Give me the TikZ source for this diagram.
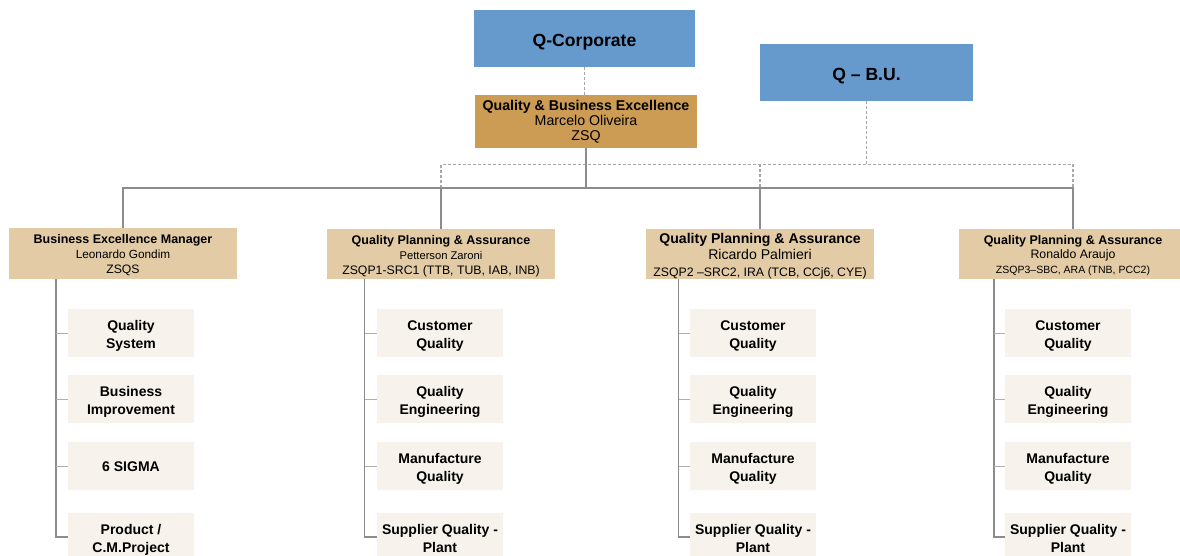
\documentclass[tikz,border=0pt]{standalone}
\usepackage{fontspec}
\setmainfont{Liberation Sans}
\definecolor{qblue}{HTML}{6699CC}
\definecolor{qgold}{HTML}{CC9C54}
\definecolor{qtan}{HTML}{E3CCA5}
\definecolor{qcream}{HTML}{F7F3EC}
\definecolor{qline}{HTML}{8C8C8C}
\definecolor{qdash}{HTML}{A8A8A8}
\newcommand{\fs}[2]{\fontsize{#1}{#2}\selectfont}
\newcommand{\sz}[1]{\fontsize{#1}{\baselineskip}\selectfont}
\begin{document}
\begin{tikzpicture}[x=1pt,y=-1pt,
  bluebox/.style={fill=qblue, inner sep=0pt, minimum height=57pt, font=\fs{17.6}{20}\bfseries, text height=16.4pt, text depth=0pt},
  goldbox/.style={fill=qgold, inner sep=0pt, minimum width=222pt, minimum height=53pt, align=center, font=\fs{14.2}{15}, text height=39pt, text depth=0pt},
  tanbox/.style={fill=qtan, inner sep=0pt, minimum width=228pt, minimum height=51pt, align=center, font=\fs{12.5}{15}, text height=40pt, text depth=0pt},
  creambox/.style={fill=qcream, inner sep=0pt, minimum width=126pt, minimum height=48pt, align=center, font=\fs{14}{17.5}\bfseries, text height=30pt, text depth=0pt},
  conn/.style={draw=qline, line width=1.1pt},
  tick/.style={draw=qline!70, line width=1pt},
  dconn/.style={draw=qdash, line width=1.1pt, dash pattern=on 3pt off 2pt}]
\useasboundingbox (0,0) rectangle (1180,556);

% top level
\node[bluebox, minimum width=221pt] (qcorp) at (584.5,38.5) {Q-Corporate};
\node[bluebox, minimum width=213pt] (qbu) at (866.5,72.5) {Q – B.U.};
\node[goldbox] (gold) at (586,121.5) {\bfseries Quality \& Business Excellence\\Marcelo Oliveira\\ZSQ};

% second level
\node[tanbox] (b1) at (123,253.5) {\bfseries Business Excellence Manager\\\sz{11.8}Leonardo Gondim\\\sz{12.2}ZSQS};
\node[tanbox, minimum height=50pt, text height=41pt] (b2) at (441,254) {\bfseries Quality Planning \& Assurance\\\sz{11.2}Petterson Zaroni\\\sz{12.3}ZSQP1-SRC1 (TTB, TUB, IAB, INB)};
\node[tanbox, minimum height=50pt, font=\fs{14.1}{16.5}, text height=44.8pt] (b3) at (760,254) {\bfseries Quality Planning \& Assurance\\Ricardo Palmieri\\\sz{12.3}ZSQP2 –SRC2, IRA (TCB, CCj6, CYE)};
\node[tanbox, minimum height=50pt, font=\fs{12.5}{14.3}, text height=38.2pt] (b4) at (1073,254) {\bfseries Quality Planning \& Assurance\\\sz{12.3}Ronaldo Araujo\\\sz{10.5}ZSQP3–SBC, ARA (TNB, PCC2)};

% third level
\node[creambox] (c11) at (131,333) {Quality\\System};
\node[creambox] (c12) at (131,399) {Business\\Improvement};
\node[creambox, text height=10pt] (c13) at (131,466) {6 SIGMA};
\node[creambox] (c14) at (131,537) {Product /\\C.M.Project};

\node[creambox] (c21) at (440,333) {Customer\\Quality};
\node[creambox] (c22) at (440,399) {Quality\\Engineering};
\node[creambox] (c23) at (440,466) {Manufacture\\Quality};
\node[creambox] (c24) at (440,537) {Supplier Quality -\\Plant};

\node[creambox] (c31) at (753,333) {Customer\\Quality};
\node[creambox] (c32) at (753,399) {Quality\\Engineering};
\node[creambox] (c33) at (753,466) {Manufacture\\Quality};
\node[creambox] (c34) at (753,537) {Supplier Quality -\\Plant};

\node[creambox] (c41) at (1068,333) {Customer\\Quality};
\node[creambox] (c42) at (1068,399) {Quality\\Engineering};
\node[creambox] (c43) at (1068,466) {Manufacture\\Quality};
\node[creambox] (c44) at (1068,537) {Supplier Quality -\\Plant};

% bus coordinates
\coordinate (bus) at (0,188);
\coordinate (dbus) at (0,164.5);

% dashed links
\draw[dconn] (qcorp.south) -- (qcorp.south |- gold.north);
\draw[dconn] (qbu.south) -- (qbu.south |- dbus);
\draw[dconn] (b2.north |- bus) -- (b2.north |- dbus) -- (b4.north |- dbus) -- (b4.north |- bus);
\draw[dconn] (b3.north |- dbus) -- (b3.north |- bus);

% solid links
\draw[conn] (gold.south) -- (gold.south |- bus);
\draw[conn] (b1.north) -- (b1.north |- bus) -- (b4.north |- bus) -- (b4.north);
\draw[conn] (b2.north |- bus) -- (b2.north);
\draw[conn] (b3.north |- bus) -- (b3.north);

% spines
\coordinate (s1) at (56,279);
\coordinate (s2) at (364.5,279);
\coordinate (s3) at (678.5,279);
\coordinate (s4) at (994,279);
\foreach \k in {1,2,3,4}{
  \draw[conn] (s\k) |- (c\k4.west);
  \foreach \r in {1,2,3}{
    \draw[tick] (c\k\r.west) -- (c\k\r.west -| s\k);
  }
}
\end{tikzpicture}
\end{document}
